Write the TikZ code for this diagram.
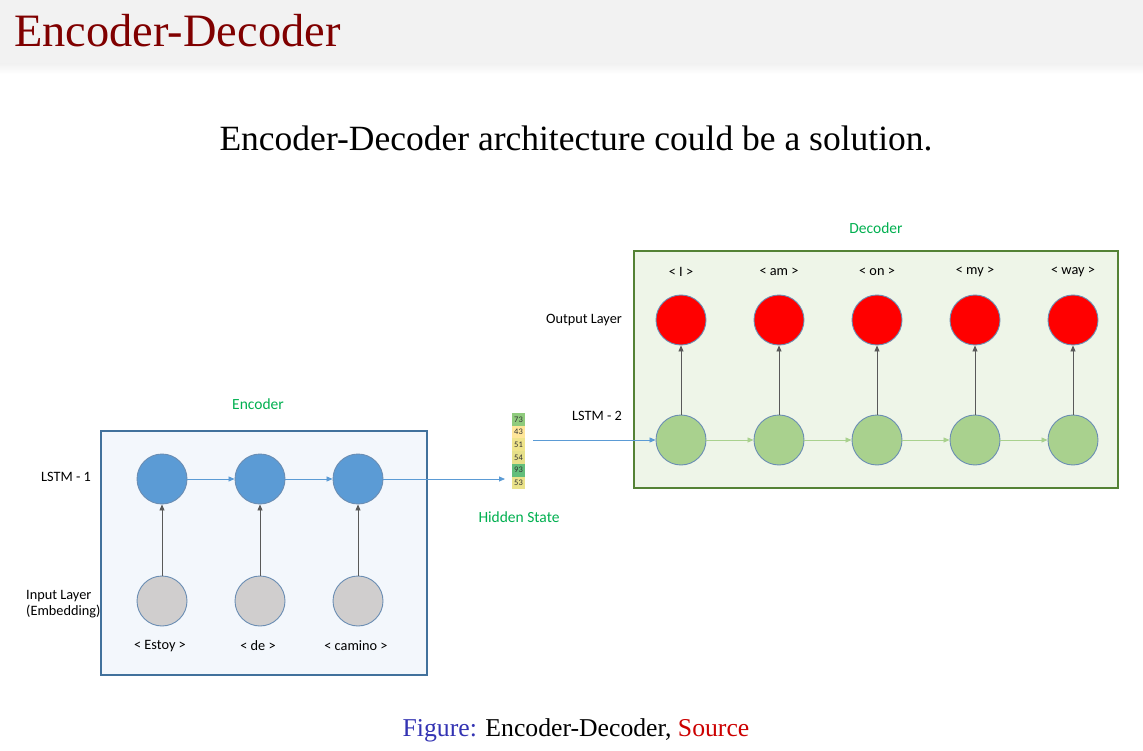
\documentclass[tikz,border=0pt]{standalone}
\usepackage{fontspec}
\setmainfont{Liberation Serif}
\newfontfamily\lab{Carlito}
\usetikzlibrary{arrows.meta}
\definecolor{titlered}{HTML}{800000}
\definecolor{hdrgray}{HTML}{F2F2F2}
\definecolor{labgreen}{HTML}{00B050}
\definecolor{encfill}{HTML}{F3F7FC}
\definecolor{encline}{HTML}{41719C}
\definecolor{decfill}{HTML}{EEF5E8}
\definecolor{decline}{HTML}{548235}
\definecolor{bluec}{HTML}{5B9BD5}
\definecolor{grayc}{HTML}{D0CECE}
\definecolor{greenc}{HTML}{A9D18E}
\definecolor{circline}{HTML}{6A8DB3}
\definecolor{arrgray}{HTML}{595959}
\definecolor{figblue}{HTML}{3333B3}
\definecolor{srcred}{HTML}{CC0000}
\tikzset{
  neuron/.style={circle, minimum size=50pt, inner sep=0pt, line width=0.9pt, draw=circline},
  small/.style={font=\lab\fontsize{14.3}{16.5}\selectfont, inner sep=0pt},
  grlabel/.style={font=\lab\fontsize{15.5}{18}\selectfont, text=labgreen, inner sep=0pt},
  uparrow/.style={draw=arrgray, line width=0.8pt, -{Triangle[length=6pt,width=5pt]}},
  bluearrow/.style={draw=bluec, line width=0.8pt, -{Triangle[length=6pt,width=5pt]}},
  greenarrow/.style={draw=greenc, line width=0.8pt, -{Triangle[length=6pt,width=5pt]}},
  hcell/.style={minimum width=13pt, minimum height=12.7pt, inner sep=0pt, font=\lab\fontsize{8.5}{9}\selectfont, text=black!80}
}
\begin{document}
\begin{tikzpicture}[x=1pt,y=-1pt]
\useasboundingbox (0,0) rectangle (1143,751);
\fill[white] (0,0) rectangle (1143,751);
% header
\fill[hdrgray] (0,0) rectangle (1143,64);
\shade[top color=hdrgray, bottom color=white] (0,64) rectangle (1143,74);
\node[anchor=base west, inner sep=0pt, text=titlered, font=\fontsize{46.4}{50}\selectfont] (title) at (14,47) {Encoder-Decoder};
\node[anchor=base, inner sep=0pt, font=\fontsize{35.5}{40}\selectfont] (sub) at (576,151) {Encoder-Decoder architecture could be a solution.};

% encoder box
\node[draw=encline, fill=encfill, line width=2pt, minimum width=326pt, minimum height=244pt, inner sep=0pt] (enc) at (264,553) {};
\node[grlabel] (enclab) at (258,404) {Encoder};
\node[small] (lstm1) at (66,477) {LSTM - 1};
\node[small, align=left, anchor=west] (inlab) at (26,604) {Input Layer\\(Embedding)};

\foreach \i/\x/\w in {1/162/< Estoy >,2/260/< de >,3/358/< camino >}{
  \node[neuron, fill=bluec] (b\i) at (\x,479) {};
  \node[neuron, fill=grayc] (g\i) at (\x,601) {};
  \node[small] (w\i) at (\x-2,646) {\w};
  \draw[uparrow] (g\i) -- (b\i);
}
\draw[bluearrow] (b1) -- (b2);
\draw[bluearrow] (b2) -- (b3);

% hidden state
\foreach \k/\v/\c in {1/73/8FCB7D,2/43/FFE699,3/51/EFE48B,4/54/E6E08A,5/93/63BE7B,6/53/EAE28A}{
  \definecolor{hc}{HTML}{\c}
  \node[hcell, fill=hc] (h\k) at (518.5,413+\k*12.7-6.35) {\v};
}
\node[grlabel] (hlab) at (519,517) {Hidden State};
\coordinate (hin) at (505,479);
\draw[bluearrow] (b3) -- (hin);

% decoder box
\node[draw=decline, fill=decfill, line width=2.4pt, minimum width=484pt, minimum height=237pt, inner sep=0pt] (dec) at (876,369.5) {};
\node[grlabel] (declab) at (876,228) {Decoder};
\node[small] (outlab) at (584,320) {Output Layer};
\node[small] (lstm2) at (597,416) {LSTM - 2};

\foreach \i/\x/\w in {1/681/< I >,2/779/< am >,3/877/< on >,4/975/< my >,5/1073/< way >}{
  \node[neuron, fill=greenc] (d\i) at (\x,440) {};
  \node[neuron, fill=red] (r\i) at (\x,320) {};
  \node[small] (o\i) at (\x,272) {\w};
  \draw[uparrow] (d\i) -- (r\i);
}
\foreach \a/\b in {1/2,2/3,3/4,4/5}{ \draw[greenarrow] (d\a) -- (d\b); }
\coordinate (hs) at (533,440);
\draw[bluearrow] (hs) -- (d1);

% caption
\node[anchor=base, inner sep=0pt, font=\fontsize{25.7}{30}\selectfont] (cap) at (576,736) {\textcolor{figblue}{Figure:} Encoder-Decoder, \textcolor{srcred}{Source}};
\end{tikzpicture}
\end{document}
